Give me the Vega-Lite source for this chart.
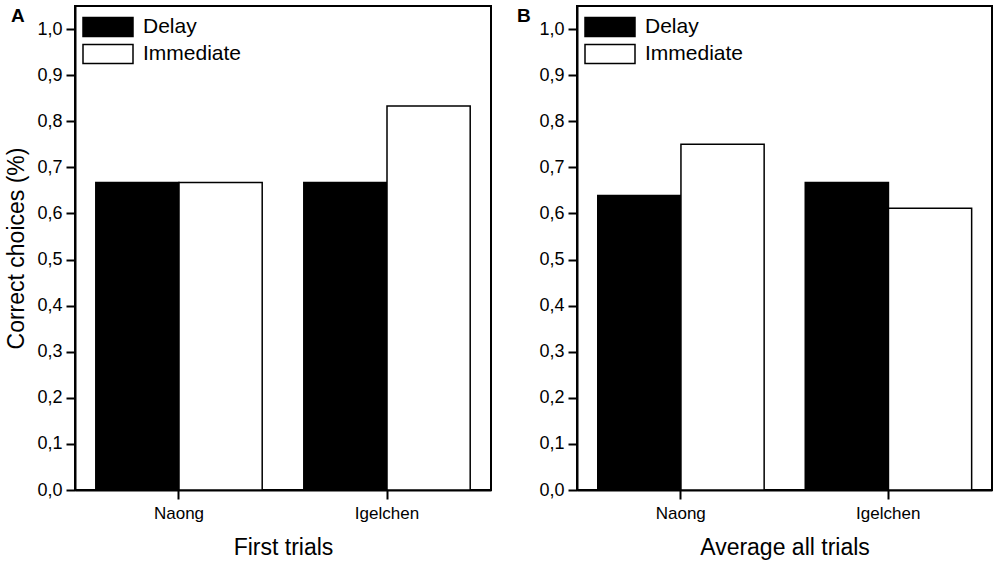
{
  "$schema": "https://vega.github.io/schema/vega-lite/v6.json",
  "padding": {"left": 4, "top": 5, "right": 4, "bottom": 4},
  "background": "white",
  "data": {
    "values": [
      {"panel": "A", "site": "Naong", "condition": "Delay", "value": 0.667},
      {"panel": "A", "site": "Naong", "condition": "Immediate", "value": 0.667},
      {"panel": "A", "site": "Igelchen", "condition": "Delay", "value": 0.667},
      {"panel": "A", "site": "Igelchen", "condition": "Immediate", "value": 0.833},
      {"panel": "B", "site": "Naong", "condition": "Delay", "value": 0.639},
      {"panel": "B", "site": "Naong", "condition": "Immediate", "value": 0.75},
      {"panel": "B", "site": "Igelchen", "condition": "Delay", "value": 0.667},
      {"panel": "B", "site": "Igelchen", "condition": "Immediate", "value": 0.611}
    ]
  },
  "bounds": "flush",
  "spacing": 86,
  "resolve": {"legend": {"color": "independent"}},
  "hconcat": [
    {
      "title": {"text": "A", "anchor": "start", "frame": "group", "dx": -64, "offset": -20},
      "width": 416,
      "height": 484,
      "transform": [{"filter": "datum.panel == 'A'"}],
      "mark": {"type": "bar", "stroke": "black", "strokeWidth": 1.5},
      "encoding": {
        "x": {
          "field": "site",
          "type": "nominal",
          "sort": ["Naong", "Igelchen"],
          "scale": {"paddingInner": 0.2, "paddingOuter": 0.1},
          "axis": {"title": "First trials", "labelAngle": 0}
        },
        "xOffset": {
          "field": "condition",
          "type": "nominal",
          "sort": ["Delay", "Immediate"],
          "scale": {"paddingInner": 0, "paddingOuter": 0}
        },
        "y": {
          "field": "value",
          "type": "quantitative",
          "scale": {"domain": [0, 1.05], "nice": false},
          "axis": {
            "title": "Correct choices (%)",
            "values": [0, 0.1, 0.2, 0.3, 0.4, 0.5, 0.6, 0.7, 0.8, 0.9, 1.0],
            "labelExpr": "replace(format(datum.value, '.1f'), '.', ',')"
          }
        },
        "color": {
          "field": "condition",
          "type": "nominal",
          "scale": {"domain": ["Delay", "Immediate"], "range": ["black", "white"]},
          "legend": {"orient": "none", "legendX": 22, "legendY": 10, "title": null}
        }
      }
    },
    {
      "title": {"text": "B", "anchor": "start", "frame": "group", "dx": -60, "offset": -20},
      "width": 415,
      "height": 484,
      "transform": [{"filter": "datum.panel == 'B'"}],
      "mark": {"type": "bar", "stroke": "black", "strokeWidth": 1.5},
      "encoding": {
        "x": {
          "field": "site",
          "type": "nominal",
          "sort": ["Naong", "Igelchen"],
          "scale": {"paddingInner": 0.2, "paddingOuter": 0.1},
          "axis": {"title": "Average all trials", "labelAngle": 0}
        },
        "xOffset": {
          "field": "condition",
          "type": "nominal",
          "sort": ["Delay", "Immediate"],
          "scale": {"paddingInner": 0, "paddingOuter": 0}
        },
        "y": {
          "field": "value",
          "type": "quantitative",
          "scale": {"domain": [0, 1.05], "nice": false},
          "axis": {
            "title": null,
            "values": [0, 0.1, 0.2, 0.3, 0.4, 0.5, 0.6, 0.7, 0.8, 0.9, 1.0],
            "labelExpr": "replace(format(datum.value, '.1f'), '.', ',')"
          }
        },
        "color": {
          "field": "condition",
          "type": "nominal",
          "scale": {"domain": ["Delay", "Immediate"], "range": ["black", "white"]},
          "legend": {"orient": "none", "legendX": 22, "legendY": 10, "title": null}
        }
      }
    }
  ],
  "config": {
    "font": "Liberation Sans",
    "view": {"stroke": "black", "strokeWidth": 2},
    "title": {"fontSize": 19, "fontWeight": "bold", "color": "black"},
    "axis": {
      "grid": false,
      "domainColor": "black",
      "domainWidth": 2,
      "tickColor": "black",
      "tickWidth": 2,
      "tickSize": 9,
      "labelColor": "black",
      "labelFontSize": 18,
      "labelPadding": 4,
      "titleColor": "black",
      "titleFontSize": 23,
      "titleFontWeight": "normal"
    },
    "axisX": {"labelPadding": 6, "titlePadding": 15, "labelFontSize": 17},
    "axisY": {"titlePadding": 8},
    "legend": {
      "symbolType": "M-2.5,-0.95H2.5V0.95H-2.5Z",
      "symbolSize": 400,
      "symbolStrokeColor": "black",
      "symbolStrokeWidth": 1.5,
      "labelFontSize": 21,
      "labelColor": "black",
      "labelOffset": 24,
      "rowPadding": 1,
      "padding": 0
    }
  }
}
